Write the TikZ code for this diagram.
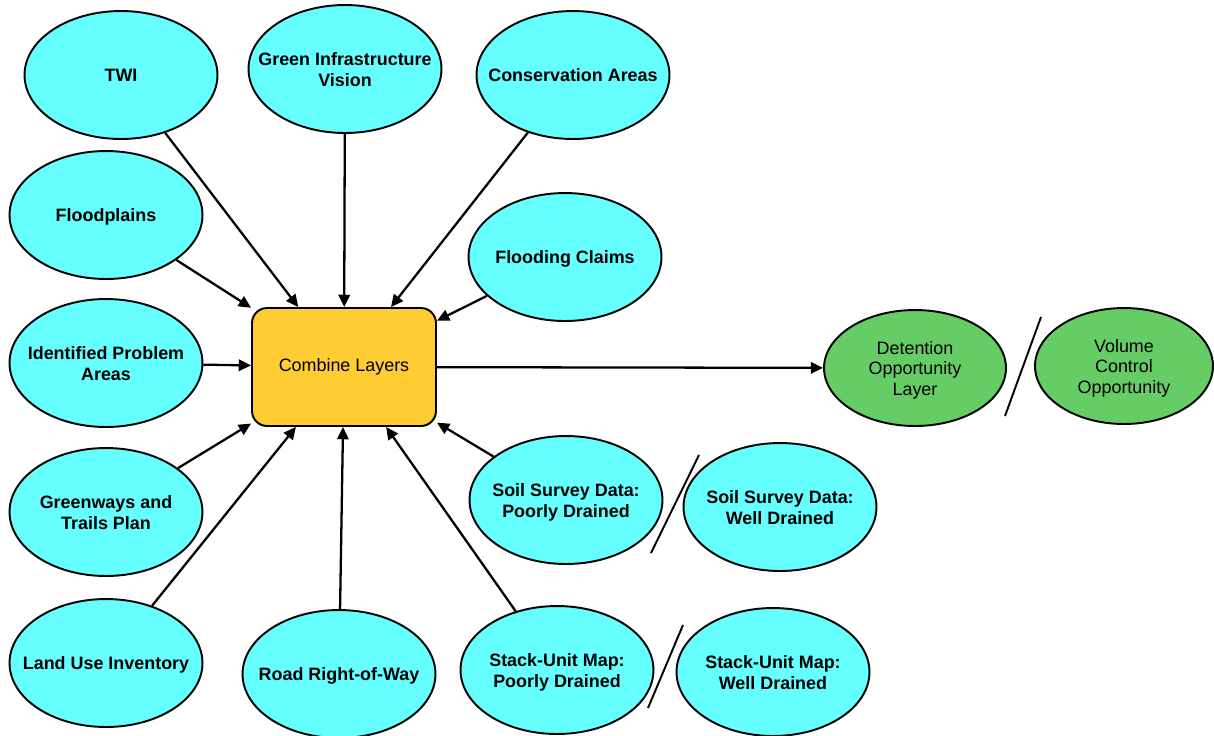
\documentclass[tikz,border=0pt]{standalone}
\usepackage{fontspec}
\setmainfont{Liberation Sans}
\usetikzlibrary{shapes.geometric,arrows.meta}
\definecolor{layercyan}{HTML}{66FFFF}
\definecolor{combineorange}{HTML}{FFCC33}
\definecolor{resultgreen}{HTML}{66CC66}
\newcommand\ovaltext[1]{\makebox[0pt]{\raisebox{-4pt}[0pt][0pt]{\begin{tabular}{@{}c@{}}#1\end{tabular}}}}
\begin{document}
\begin{tikzpicture}[x=0.02cm, y=-0.02cm,
    layer/.style={ellipse, draw, line width=1.1pt, fill=layercyan, minimum width=3.86cm, minimum height=2.56cm, inner sep=0pt, font=\fontsize{10.2}{11.7}\selectfont\bfseries},
    result/.style={ellipse, draw, line width=1.1pt, fill=resultgreen, minimum width=3.64cm, minimum height=2.32cm, inner sep=0pt, font=\fontsize{10.2}{11.7}\selectfont},
    arr/.style={-{Triangle[length=7pt, width=6.5pt]}, line width=1.3pt},
    sep/.style={line width=1.1pt}]
        \useasboundingbox (0, 0) rectangle (1214, 735);

        \node[draw, line width=1.1pt, fill=combineorange, rounded corners=0.3cm, minimum width=3.68cm, minimum height=2.36cm, font=\fontsize{10.2}{11.7}\selectfont] (combine) at (344, 367) {Combine Layers};

        \node[layer] (twi) at (121, 75) {\ovaltext{TWI}};
        \node[layer] (givision) at (345, 69) {\ovaltext{Green Infrastructure\\Vision}};
        \node[layer] (consareas) at (573, 75) {\ovaltext{Conservation Areas}};
        \node[layer] (floodplains) at (106, 215) {\ovaltext{Floodplains}};
        \node[layer] (floodclaims) at (565, 257) {\ovaltext{Flooding Claims}};
        \node[layer] (problem) at (106, 363) {\ovaltext{Identified Problem\\Areas}};
        \node[layer] (greenways) at (106, 512) {\ovaltext{Greenways and\\Trails Plan}};
        \node[layer] (landuse) at (106, 663) {\ovaltext{Land Use Inventory}};
        \node[layer] (road) at (339, 674) {\ovaltext{Road Right-of-Way}};
        \node[layer] (soilpoor) at (566, 500) {\ovaltext{Soil Survey Data:\\Poorly Drained}};
        \node[layer] (soilwell) at (780, 507) {\ovaltext{Soil Survey Data:\\Well Drained}};
        \node[layer] (stackpoor) at (557, 670) {\ovaltext{Stack-Unit Map:\\Poorly Drained}};
        \node[layer] (stackwell) at (773, 672) {\ovaltext{Stack-Unit Map:\\Well Drained}};

        \node[result] (detention) at (915, 368) {\ovaltext{Detention\\Opportunity\\Layer}};
        \node[result, minimum width=3.56cm] (volume) at (1124, 366) {\ovaltext{Volume\\Control\\Opportunity}};

        \foreach \src in {twi, givision, consareas, floodplains, floodclaims, problem, greenways, landuse, road, soilpoor, stackpoor}
          \draw[arr] (\src) -- (combine);
        \draw[arr] (combine) -- (detention);

        \coordinate (cutdetlo) at (1005, 416);
        \coordinate (cutdethi) at (1041, 317);
        \coordinate (cutsoillo) at (651, 553);
        \coordinate (cutsoilhi) at (699, 455);
        \coordinate (cutstacklo) at (648, 708);
        \coordinate (cutstackhi) at (683, 625);
        \draw[sep] (cutdetlo) -- (cutdethi);
        \draw[sep] (cutsoillo) -- (cutsoilhi);
        \draw[sep] (cutstacklo) -- (cutstackhi);
      \end{tikzpicture}
\end{document}
